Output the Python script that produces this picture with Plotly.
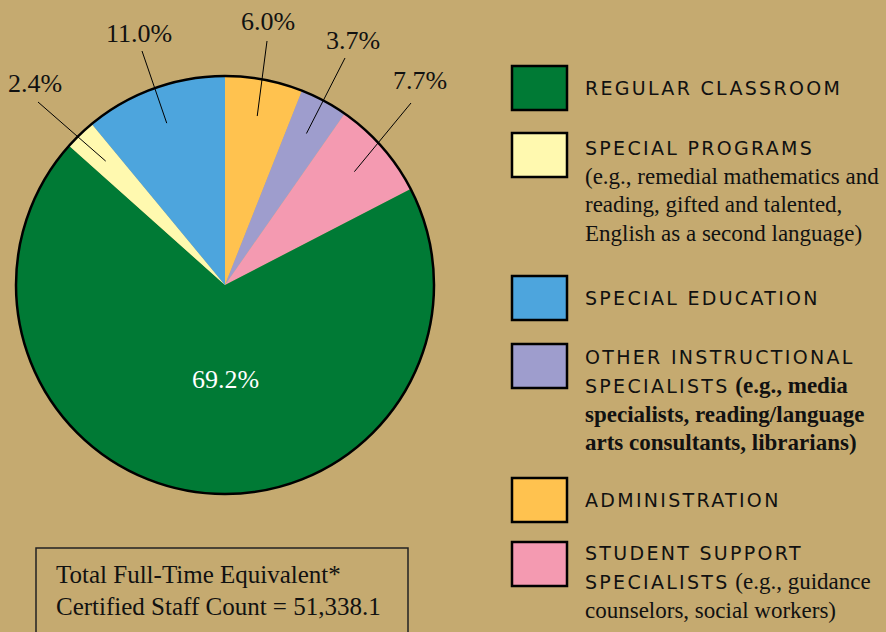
import math
import plotly.graph_objects as go

W, H = 886, 632
BG = "#C5AA70"

# ---- data (clockwise from 12 o'clock) ----
categories = ["ADMINISTRATION", "OTHER INSTRUCTIONAL SPECIALISTS", "STUDENT SUPPORT SPECIALISTS",
              "REGULAR CLASSROOM", "SPECIAL PROGRAMS", "SPECIAL EDUCATION"]
values = [6.0, 3.7, 7.7, 69.2, 2.4, 11.0]
colors = ["#FFC24F", "#9E9DCD", "#F49AB1", "#007A35", "#FFF9AF", "#4DA5DD"]
outside = [True, True, True, False, True, True]

# label placement (pixels) for the outside labels, and where their leader lines end
label_xy = [(268, 22), (353, 40), (420, 80), None, (35, 83), (139, 33)]
leader_end = [(267, 41), (345, 58), (411, 103), None, (38, 102), (142, 51)]

# legend (in display order)
legend_order = ["REGULAR CLASSROOM", "SPECIAL PROGRAMS", "SPECIAL EDUCATION",
                "OTHER INSTRUCTIONAL SPECIALISTS", "ADMINISTRATION", "STUDENT SUPPORT SPECIALISTS"]
legend_lines = [
    [("REGULAR CLASSROOM", "", False)],
    [("SPECIAL PROGRAMS", "", False),
     ("", "(e.g., remedial mathematics and", False),
     ("", "reading, gifted and talented,", False),
     ("", "English as a second language)", False)],
    [("SPECIAL EDUCATION", "", False)],
    [("OTHER INSTRUCTIONAL", "", False),
     ("SPECIALISTS", " (e.g., media", True),
     ("", "specialists, reading/language", True),
     ("", "arts consultants, librarians)", True)],
    [("ADMINISTRATION", "", False)],
    [("STUDENT SUPPORT", "", False),
     ("SPECIALISTS", " (e.g., guidance", False),
     ("", "counselors, social workers)", False)],
]
total_text = ["Total Full-Time Equivalent*", "Certified Staff Count = 51,338.1"]

# ---- geometry ----
CX, CY, R = 225, 285, 209


def px(x):
    return x / W


def py(y):
    return 1 - y / H


SANS = "DejaVu Sans"
SERIF = "Liberation Serif"

fig = go.Figure()
fig.add_trace(go.Pie(
    labels=categories, values=values, sort=False, direction="clockwise", rotation=0,
    marker=dict(colors=colors, line=dict(width=0)),
    textinfo="none", hoverinfo="label+percent", showlegend=False,
    domain=dict(x=[px(CX - R), px(CX + R)], y=[py(CY + R), py(CY - R)]),
))

shapes = []
annotations = []

# outline circle
shapes.append(dict(type="circle", xref="paper", yref="paper",
                   x0=px(CX - R), x1=px(CX + R), y0=py(CY + R), y1=py(CY - R),
                   line=dict(color="black", width=2.5)))

# leader lines + labels
cum = 0.0
total = sum(values)
for v, out, lxy, lend in zip(values, outside, label_xy, leader_end):
    mid = (cum + v / 2) / total * 2 * math.pi
    cum += v
    s, c = math.sin(mid), math.cos(mid)
    label = f"{v:.1f}%"
    if out:
        r1 = 172
        shapes.append(dict(type="line", xref="paper", yref="paper",
                           x0=px(CX + r1 * s), y0=py(CY - r1 * c),
                           x1=px(lend[0]), y1=py(lend[1]),
                           line=dict(color="black", width=1)))
        annotations.append(dict(x=px(lxy[0]), y=py(lxy[1]), xref="paper", yref="paper",
                                text=label, showarrow=False, xanchor="center", yanchor="middle",
                                font=dict(family=SERIF, size=26, color="#111")))
    else:
        annotations.append(dict(x=px(CX), y=py(CY + 94), xref="paper", yref="paper",
                                text=label, showarrow=False, xanchor="center", yanchor="middle",
                                font=dict(family=SERIF, size=26, color="white")))

# legend boxes and texts
box_tops = [66, 133, 276, 344, 478, 542]
line_y0 = [88, 148, 298, 357, 500, 553]
line_gap = 28.5
BX0, BX1, BH = 512, 567, 44
TX = 583
for name, top, y0, lines in zip(legend_order, box_tops, line_y0, legend_lines):
    col = colors[categories.index(name)]
    shapes.append(dict(type="rect", xref="paper", yref="paper",
                       x0=px(BX0), x1=px(BX1), y0=py(top + BH), y1=py(top),
                       fillcolor=col, line=dict(color="black", width=2.5)))
    for i, (caps, desc, bold) in enumerate(lines):
        txt = ""
        if caps:
            txt += f'<span style="font-family:{SANS};font-size:19px;letter-spacing:2.3px">{caps}</span>'
        if desc:
            d = f"<b>{desc}</b>" if bold else desc
            txt += f'<span style="font-family:{SERIF};font-size:23px">{d}</span>'
        annotations.append(dict(x=px(TX), y=py(y0 + i * line_gap), xref="paper", yref="paper",
                                text=txt, showarrow=False, xanchor="left", yanchor="middle",
                                font=dict(family=SERIF, size=23, color="#111")))

# total box
shapes.append(dict(type="rect", xref="paper", yref="paper",
                   x0=px(36), x1=px(408), y0=py(645), y1=py(548),
                   line=dict(color="#222", width=1.5), fillcolor="rgba(0,0,0,0)"))
for i, t in enumerate(total_text):
    annotations.append(dict(x=px(54), y=py(574 + i * 32), xref="paper", yref="paper",
                            text=t, showarrow=False, xanchor="left", yanchor="middle",
                            font=dict(family=SERIF, size=25, color="#111")))

fig.update_layout(
    width=W, height=H, margin=dict(l=0, r=0, t=0, b=0),
    paper_bgcolor=BG, plot_bgcolor=BG,
    shapes=shapes, annotations=annotations, showlegend=False,
)
fig.write_html("out.html", config={"displayModeBar": False}, post_script=(
    "document.body.style.margin='0';document.body.style.padding='0';"
    "document.body.style.background='" + BG + "';"
    "document.body.style.overflow='hidden';"
))
